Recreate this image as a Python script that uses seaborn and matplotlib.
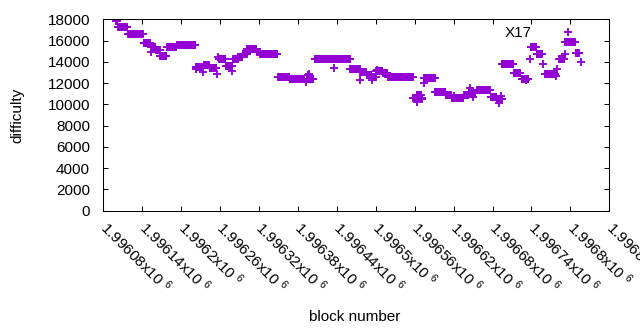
import numpy as np
import pandas as pd
import matplotlib
matplotlib.use("Agg")
import matplotlib.pyplot as plt
import seaborn as sns

# constant-difficulty runs (first block, last block, difficulty)
run_start = [1996103, 1996118, 1996142, 1996154, 1996161, 1996168, 1996178, 1996194,
             1996223, 1996235, 1996244, 1996258, 1996269, 1996280, 1996288, 1996295,
             1996302, 1996317, 1996322, 1996350, 1996368, 1996394, 1996406, 1996461,
             1996476, 1996486, 1996494, 1996501, 1996511, 1996519, 1996558, 1996563,
             1996575, 1996592, 1996608, 1996617, 1996636, 1996643, 1996656, 1996677,
             1996687, 1996695, 1996713, 1996725, 1996739, 1996748, 1996761, 1996783,
             1996792, 1996808]
run_end = [1996117, 1996141, 1996152, 1996160, 1996167, 1996177, 1996192, 1996222,
           1996232, 1996243, 1996254, 1996268, 1996279, 1996287, 1996294, 1996301,
           1996316, 1996321, 1996348, 1996367, 1996390, 1996404, 1996460, 1996475,
           1996485, 1996493, 1996500, 1996510, 1996518, 1996557, 1996571, 1996569,
           1996591, 1996607, 1996616, 1996635, 1996642, 1996653, 1996676, 1996686,
           1996694, 1996712, 1996723, 1996735, 1996747, 1996756, 1996776, 1996790,
           1996807, 1996813]
run_difficulty = [17230, 16590, 15730, 15400, 15110, 14550, 15390, 15550,
                  13470, 13730, 13420, 14240, 13630, 14220, 14420, 14690,
                  15190, 14920, 14770, 12550, 12430, 12400, 14240, 13300,
                  13070, 12760, 12600, 13140, 12920, 12620, 10570, 10850,
                  12450, 11190, 10880, 10570, 10880, 11040, 11320, 10710,
                  10460, 13770, 12920, 12420, 15390, 14740, 12810, 14250,
                  15910, 14810]

# isolated blocks
single_block = [1996100, 1996101, 1996153, 1996223, 1996234, 1996255, 1996257, 1996279,
                1996392, 1996395, 1996397, 1996436, 1996476, 1996494, 1996502, 1996563,
                1996571, 1996574, 1996621, 1996645, 1996650, 1996690, 1996693, 1996731,
                1996738, 1996758, 1996778, 1996779, 1996791, 1996796, 1996816]
single_difficulty = [17810, 17810, 14900, 13280, 13070, 12810, 14480, 13140,
                     12100, 12760, 12900, 13390, 12260, 12290, 13260, 10220,
                     10460, 11980, 10760, 11540, 10720, 10160, 10810, 12320,
                     14220, 13760, 12710, 13370, 14710, 16760, 14030]

xtick_values = [1996080, 1996140, 1996200, 1996260, 1996320, 1996380, 1996440,
                1996500, 1996560, 1996620, 1996680, 1996740, 1996800, 1996860]
xtick_labels = ["1.99608x10 $^{6}$", "1.99614x10 $^{6}$", "1.9962x10 $^{6}$",
                "1.99626x10 $^{6}$", "1.99632x10 $^{6}$", "1.99638x10 $^{6}$",
                "1.99644x10 $^{6}$", "1.9965x10 $^{6}$", "1.99656x10 $^{6}$",
                "1.99662x10 $^{6}$", "1.99668x10 $^{6}$", "1.99674x10 $^{6}$",
                "1.9968x10 $^{6}$", "1.99686x10 $^{6}$"]
ytick_values = [0, 2000, 4000, 6000, 8000, 10000, 12000, 14000, 16000, 18000]
ytick_labels = ["0", "2000", "4000", "6000", "8000", "10000", "12000", "14000", "16000", "18000"]
annotation_text = "X17"
annotation_pos = (1996699, 16360)

blocks = np.concatenate([np.arange(s, e + 1) for s, e in zip(run_start, run_end)]
                        + [np.array(single_block)])
diffs = np.concatenate([np.full(e - s + 1, d) for s, e, d in zip(run_start, run_end, run_difficulty)]
                       + [np.array(single_difficulty)])
df = pd.DataFrame({"block": blocks, "difficulty": diffs})

sns.set_theme(style="white")
plt.rcParams["font.family"] = ["Liberation Sans", "DejaVu Sans"]
plt.rcParams["mathtext.fontset"] = "custom"
plt.rcParams["mathtext.rm"] = "Liberation Sans"
plt.rcParams["mathtext.it"] = "Liberation Sans:italic"
plt.rcParams["mathtext.bf"] = "Liberation Sans:bold"

fig = plt.figure(figsize=(6.4, 3.3), dpi=100)
ax = fig.add_axes([103.3 / 640, 1 - 210.7 / 330, 506 / 640, 191.4 / 330])
sns.scatterplot(data=df, x="block", y="difficulty", marker="+", color="#9400d3",
                s=32, linewidth=1.35, ax=ax, legend=False)
ax.set_xlim(1996080, 1996860)
ax.set_ylim(0, 18000)
ax.set_xticks(xtick_values)
ax.set_xticklabels(xtick_labels, rotation=-45, ha="left", va="center",
                   rotation_mode="anchor", fontsize=11, color="black")
ax.set_yticks(ytick_values)
ax.set_yticklabels(ytick_labels, fontsize=11, color="black")
ax.tick_params(direction="in", length=3.3, width=0.75, color="black",
               top=True, right=True, bottom=True, left=True)
ax.tick_params(axis="x", pad=10)
ax.tick_params(axis="y", pad=9.6)
for sp in ax.spines.values():
    sp.set_visible(True)
    sp.set_color("black")
    sp.set_linewidth(0.75)
ax.set_xlabel("")
ax.set_ylabel("")
fig.text(354.5 / 640, 1 - 321 / 330, "block number", ha="center", va="baseline",
         fontsize=11, color="black")
fig.text(17.5 / 640, 1 - 115 / 330, "difficulty", rotation=90, ha="center", va="center",
         fontsize=11, color="black")
ax.text(annotation_pos[0], annotation_pos[1], annotation_text, ha="left", va="baseline",
        fontsize=11, color="black")
fig.savefig("out.png", dpi=100)
